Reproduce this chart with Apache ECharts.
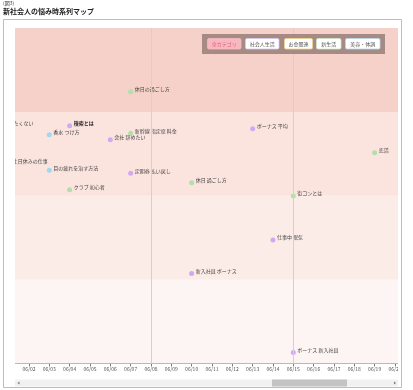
<!DOCTYPE html>
<html><head><meta charset="utf-8">
<script src="https://cdn.jsdelivr.net/npm/echarts@6/dist/echarts.min.js"></script>
<style>html,body{margin:0;padding:0;background:#fff}#c{width:413px;height:390px}</style>
</head><body><div id="c"></div>
<script>
// ---- data ----
const categories = ['社会人生活', 'お金関連', '新生活', '美容・体調'];
const categoryColors = ['#d3a8f2', '#f3c97a', '#b2dfab', '#a4d6f1'];
const keywords = ['休日の過ごし方', '会社 行きたくない', '検索とは', '香水 つけ方', '新幹線 指定席 料金', '会社 辞めたい', 'ボーナス 平均', '恋活', '土日休みの仕事', '目の疲れを治す方法', '定期券 払い戻し', '休日 過ごし方', 'クラブ 初心者', '街コンとは', '仕事中 眠気', '新入社員 ボーナス', 'ボーナス 新入社員'];
const days = [7, 0, 4, 3, 7, 6, 13, 19, 1, 3, 7, 10, 4, 15, 14, 10, 15]; // day of June (0 = 05/31)
const scores = [81.0, 70.9, 70.9, 68.2, 68.6, 66.7, 70.0, 62.8, 59.5, 57.6, 56.7, 53.9, 51.8, 49.9, 36.8, 26.8, 3.3];
const keywordCats = ['新生活', '社会人生活', '社会人生活', '美容・体調', '新生活', '社会人生活', '社会人生活', '新生活', '社会人生活', '美容・体調', '社会人生活', '新生活', '新生活', '新生活', '社会人生活', '社会人生活', '社会人生活'];
const boldKeywords = ['検索とは'];
const bandEdges = [0, 25, 50, 75, 100];
const bandColors = ['#fdf5f3', '#fcece7', '#fbe3de', '#f6d1c9'];
const weekStarts = [1, 8, 15];
const legendLabels = ['全カテゴリ', '社会人生活', 'お金関連', '新生活', '美容・体調'];

function dayLabel(v) {
  if (Math.round(v) !== v) return '';
  if (v <= 0) return '05/' + (31 + v);
  return '06/' + (v < 10 ? '0' + v : '' + v);
}

const chart = echarts.init(document.getElementById('c'), null, {renderer: 'canvas'});
const FONT = '"Noto Sans CJK JP", "Noto Sans", sans-serif';

const series = [{
  type: 'scatter', data: [], silent: true, z: 0,
  markArea: {
    silent: true,
    data: bandColors.map((c, i) => [{yAxis: bandEdges[i], itemStyle: {color: c}}, {yAxis: bandEdges[i + 1]}])
  },
  markLine: {
    silent: true, symbol: 'none', label: {show: false},
    lineStyle: {color: '#d6cfcd', width: 1, type: 'solid'},
    data: weekStarts.map(d => ({xAxis: d}))
  }
}];

categories.forEach((cat, ci) => {
  const data = [];
  keywords.forEach((k, i) => {
    if (keywordCats[i] !== cat) return;
    const item = {name: k, value: [days[i], scores[i]]};
    if (boldKeywords.includes(k)) item.label = {fontWeight: 'bold', color: '#222'};
    data.push(item);
  });
  series.push({
    name: cat, type: 'scatter', symbolSize: 5, clip: false,
    itemStyle: {color: categoryColors[ci], opacity: 1},
    label: {show: true, position: 'right', distance: 1.5, offset: [0, -2.5], formatter: '{b}',
      fontSize: 5, color: '#444', fontFamily: FONT},
    data: data
  });
});

// legend buttons
const btnX = [207.5, 245.5, 284.5, 316.5, 345.5];
const btnW = [33.5, 33.5, 28, 24.5, 34.5];
const btnBorder = ['#f6b9bf', '#dcc6ee', '#f1d48e', '#cfe6c9', '#b9d9ec'];
const graphics = [];
// covers to clip the scrolled plot
graphics.push({type: 'rect', shape: {x: 0, y: 19.5, width: 15, height: 358}, style: {fill: '#fff'}, z: 100, silent: true});
graphics.push({type: 'rect', shape: {x: 398, y: 19.5, width: 15, height: 358}, style: {fill: '#fff'}, z: 100, silent: true});
// scrollbar
graphics.push({type: 'rect', shape: {x: 15, y: 379.5, width: 383, height: 7}, style: {fill: '#f1f1f1'}, z: 101, silent: true});
graphics.push({type: 'rect', shape: {x: 272, y: 379.5, width: 75, height: 7}, style: {fill: '#c3c3c3'}, z: 102, silent: true});
graphics.push({type: 'polygon', shape: {points: [[17.5, 383], [19.5, 381.5], [19.5, 384.5]]}, style: {fill: '#777'}, z: 102, silent: true});
graphics.push({type: 'polygon', shape: {points: [[396, 383], [394, 381.5], [394, 384.5]]}, style: {fill: '#777'}, z: 102, silent: true});
// outer frame
graphics.push({type: 'rect', shape: {x: 3.5, y: 19.5, width: 398, height: 368}, style: {fill: null, stroke: '#bdbdbd', lineWidth: 1}, z: 103, silent: true});
// legend box
graphics.push({type: 'rect', shape: {x: 202, y: 34, width: 183, height: 20}, style: {fill: '#a58b84'}, z: 104, silent: true});
legendLabels.forEach((t, i) => {
  const active = i === 0;
  graphics.push({type: 'rect', shape: {x: btnX[i], y: 38.5, width: btnW[i], height: 10.5, r: 1.5},
    style: {fill: active ? '#f6b9bf' : '#ffffff', stroke: btnBorder[i], lineWidth: 0.8}, z: 105, silent: true});
  graphics.push({type: 'text', x: btnX[i] + btnW[i] / 2, y: 43.75,
    style: {text: t, fill: active ? '#e2607c' : '#555', fontSize: 5, fontFamily: FONT, align: 'center', verticalAlign: 'middle'},
    z: 106, silent: true});
});

chart.setOption({
  backgroundColor: '#fff',
  animation: false,
  title: [
    {text: '(図3)', left: 3, top: 1, padding: 0, textStyle: {fontSize: 5, fontWeight: 'normal', color: '#333', fontFamily: FONT}},
    {text: '新社会人の悩み時系列マップ', left: 3, top: 8, padding: 0, textStyle: {fontSize: 7, fontWeight: 'bold', color: '#222', fontFamily: FONT}}
  ],
  grid: {left: -11.7, right: -2.3, top: 28, bottom: 26.5, containLabel: false, outerBoundsMode: 'none'},
  xAxis: {
    type: 'value', min: 0, max: 21, interval: 1,
    axisLine: {lineStyle: {color: '#7a7a7a', width: 1.2}},
    axisTick: {show: true, length: 3, lineStyle: {color: '#7a7a7a'}},
    axisLabel: {fontSize: 5, color: '#555', margin: 3, fontFamily: FONT, formatter: dayLabel},
    splitLine: {show: false}
  },
  yAxis: {type: 'value', min: 0, max: 100, show: false},
  series: series,
  graphic: graphics
});
</script></body></html>
